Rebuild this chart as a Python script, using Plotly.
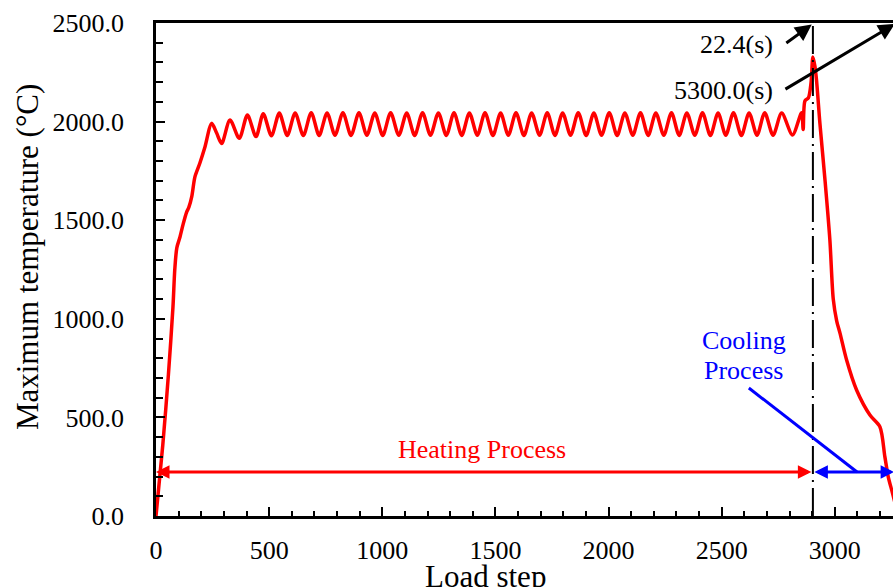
import plotly.graph_objects as go

# ---- data -------------------------------------------------------------
# initial temperature rise
ramp_steps = [0, 30, 55, 75, 83, 92, 106, 120, 135, 145, 158, 172, 194, 216, 246]
ramp_temps = [0, 360, 720, 1060, 1250, 1360, 1415, 1480, 1540, 1565, 1620, 1720, 1790, 1870, 1991]

# oscillating plateau while the heat source moves
plateau_steps = [268, 290, 327, 368, 404, 442, 474, 510, 545, 580, 615, 651, 686, 721,
                 756, 791, 826, 862, 897, 932, 967, 1002, 1037, 1073, 1108, 1143, 1178,
                 1213, 1248, 1283, 1317, 1351, 1385, 1420, 1454, 1489, 1523, 1557, 1591,
                 1626, 1660, 1695, 1729, 1763, 1797, 1832, 1866, 1901, 1935, 1969, 2003,
                 2038, 2072, 2107, 2141, 2175, 2209, 2244, 2278, 2312, 2346, 2381, 2415,
                 2450, 2484, 2518, 2552, 2587, 2621, 2656, 2690, 2727, 2765, 2813, 2853]
plateau_temps = [1942, 1889, 2008, 1915, 2033, 1924, 2040, 1928, 2043, 1930, 2044, 1929,
                 2045, 1930, 2044, 1931, 2045, 1930, 2045, 1931, 2044, 1930, 2045, 1931,
                 2044, 1930, 2045, 1931, 2044, 1930, 2045, 1930, 2044, 1931, 2045, 1930,
                 2044, 1931, 2045, 1930, 2044, 1931, 2045, 1930, 2044, 1931, 2045, 1930,
                 2044, 1931, 2045, 1930, 2044, 1931, 2045, 1930, 2044, 1931, 2045, 1930,
                 2044, 1931, 2045, 1930, 2044, 1931, 2045, 1930, 2044, 1931, 2045, 1931,
                 2043, 1932, 2045]

# final peak and cooling
cooling_steps = [2860, 2868, 2883, 2895, 2903, 2912, 2919, 2934, 2956, 2978, 2993, 3008,
                 3023, 3052, 3096, 3155, 3199, 3221, 3236, 3255, 3280]
cooling_temps = [1960, 2105, 2120, 2200, 2327, 2280, 2210, 1991, 1710, 1400, 1100, 990,
                 926, 791, 639, 512, 453, 301, 199, 115, 0]

load_step = ramp_steps + plateau_steps + cooling_steps
max_temp = ramp_temps + plateau_temps + cooling_temps

x_ticks = [0, 500, 1000, 1500, 2000, 2500, 3000]
y_ticks = [0, 500, 1000, 1500, 2000, 2500]

heating_end = 2903      # load step where heating stops
process_arrow_y = 223   # height of the process span arrows
heating_time = "22.4(s)"
cooling_time = "5300.0(s)"

X_MAX = 3257
FONT = "Liberation Serif"

fig = go.Figure()
fig.add_trace(go.Scatter(
    x=load_step, y=max_temp, mode="lines",
    line=dict(color="#ff0000", width=3.5, shape="spline", smoothing=0.8),
    showlegend=False, hoverinfo="skip",
))

# vertical dash-dot marker at the end of heating
fig.add_shape(type="line", xref="x", yref="y",
              x0=heating_end, x1=heating_end, y0=0, y1=2500,
              line=dict(color="black", width=2, dash="28px,6px,2px,6px"))

# pointer from "Cooling Process" label to its arrow
fig.add_shape(type="line", xref="x", yref="y",
              x0=2620, y0=649, x1=3098, y1=process_arrow_y,
              line=dict(color="#0000ff", width=3))

ann = []

def span_arrow(x_from, x_to, color):
    return dict(x=x_from, y=process_arrow_y, ax=x_to, ay=process_arrow_y,
                xref="x", yref="y", axref="x", ayref="y", text="",
                showarrow=True, arrowhead=2, startarrowhead=2,
                arrowside="end+start", arrowsize=0.9, startarrowsize=0.9,
                arrowwidth=3, arrowcolor=color, standoff=0, startstandoff=0)

ann.append(span_arrow(0, heating_end, "#ff0000"))
ann.append(span_arrow(3262, heating_end, "#0000ff"))

# time pointers at the top
ann.append(dict(x=2898, y=2492, ax=2779, ay=2393, xref="x", yref="y", axref="x", ayref="y",
                text="", showarrow=True, arrowhead=2, arrowsize=1.1, arrowwidth=3,
                arrowcolor="black", standoff=0))
ann.append(dict(x=3265, y=2495, ax=2775, ay=2160, xref="x", yref="y", axref="x", ayref="y",
                text="", showarrow=True, arrowhead=2, arrowsize=1.1, arrowwidth=3,
                arrowcolor="black", standoff=0))

def label(text, x, y, color="black", xanchor="center", size=26):
    return dict(x=x, y=y, xref="x", yref="y", text=text, showarrow=False,
                xanchor=xanchor, yanchor="middle",
                font=dict(family=FONT, size=size, color=color))

ann.append(label(heating_time, 2735, 2393, xanchor="right"))
ann.append(label(cooling_time, 2735, 2160, xanchor="right"))
ann.append(label("Heating Process", 1441, 335, color="#ff0000"))
ann.append(label("Cooling", 2598, 890, color="#0000ff"))
ann.append(label("Process", 2598, 740, color="#0000ff"))

# axis titles
ann.append(dict(x=1458, y=0, xref="x", yref="paper", text="Load step", showarrow=False,
                xanchor="center", yanchor="middle", yshift=-60,
                font=dict(family=FONT, size=31, color="black")))
ann.append(dict(x=0, y=1313, xref="paper", yref="y", text="Maximum temperature (°C)",
                showarrow=False, textangle=-90, xanchor="center", yanchor="middle",
                xshift=-129, font=dict(family=FONT, size=31, color="black")))

fig.update_layout(
    width=893, height=587,
    margin=dict(l=156, r=0, t=23, b=71),
    plot_bgcolor="white", paper_bgcolor="white",
    annotations=ann,
    font=dict(family=FONT, size=26, color="black"),
)

fig.update_xaxes(
    range=[0, X_MAX], tickvals=x_ticks, ticktext=[str(v) for v in x_ticks],
    showgrid=False, zeroline=False,
    showline=True, linecolor="black", linewidth=2.5, mirror=True,
    ticks="inside", ticklen=9, tickwidth=2, tickcolor="black",
    minor=dict(dtick=100, ticks="inside", ticklen=5, tickwidth=2, tickcolor="black"),
    ticklabelstandoff=9,
    tickfont=dict(family=FONT, size=26, color="black"),
)
fig.update_yaxes(
    range=[0, 2500], tickvals=y_ticks, ticktext=[f"{v:.1f}" for v in y_ticks],
    showgrid=False, zeroline=False,
    showline=True, linecolor="black", linewidth=2.5, mirror=False,
    ticks="inside", ticklen=9, tickwidth=2, tickcolor="black",
    minor=dict(dtick=100, ticks="inside", ticklen=7, tickwidth=2, tickcolor="black"),
    ticklabelstandoff=24,
    tickfont=dict(family=FONT, size=26, color="black"),
)

fig.write_html("out.html")
